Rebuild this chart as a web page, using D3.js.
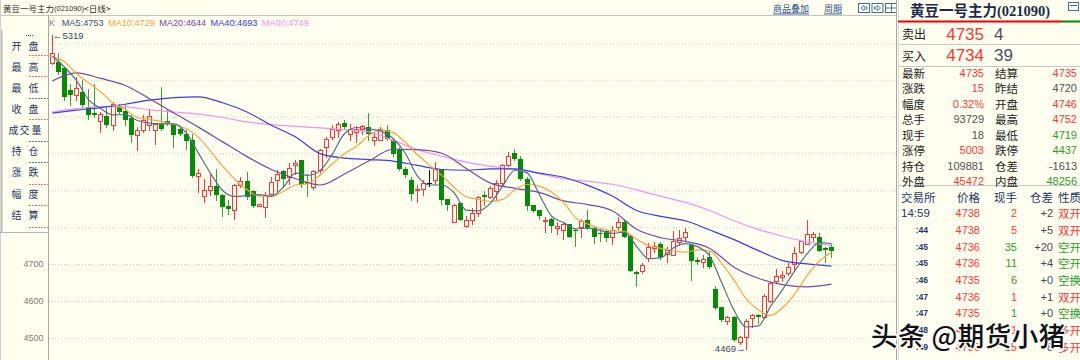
<!DOCTYPE html>
<html><head><meta charset="utf-8">
<script src="https://cdn.jsdelivr.net/npm/d3@7"></script>
<style>
html,body{margin:0;padding:0;background:#fffff0;overflow:hidden}
svg{display:block}
text{font-family:"Liberation Sans","Noto Sans CJK SC",sans-serif}
.cjk{font-family:"Noto Sans CJK SC",sans-serif}
</style></head><body>
<svg id="chart" width="1080" height="360"></svg>
<script>
// ---------------- DATA ----------------
const opens  = [5244,5247,5229,5170,5156,5165,5125,5108,5087,5099,5075,5126,5114,5096,5048,5061,5075,5061,5079,5086,5078,5066,5052,5036,4938,4882,4900,4909,4885,4855,4846,4914,4925,4896,4857,4853,4889,4927,4951,4934,4966,4981,4921,4907,4953,5016,5043,5062,5080,5052,5057,5066,5069,5036,5036,5063,5034,5012,4957,4927,4900,4903,4918,4926,4953,4874,4812,4864,4803,4819,4837,4887,4880,4898,4918,4966,5000,4984,4930,4858,4844,4815,4821,4796,4790,4806,4790,4799,4817,4796,4782,4788,4772,4799,4812,4776,4676,4679,4715,4742,4752,4726,4724,4758,4773,4751,4710,4704,4717,4631,4581,4545,4556,4486,4500,4552,4561,4554,4599,4654,4663,4674,4699,4731,4753,4773,4773,4742,4746];
const highs  = [5319,5270,5233,5188,5206,5197,5174,5188,5111,5125,5138,5134,5129,5102,5070,5102,5120,5081,5179,5116,5079,5068,5061,5052,4957,4930,4943,4957,4889,4871,4916,4934,4948,4900,4862,4894,4934,4954,4953,4972,4980,4981,4943,4954,5011,5043,5075,5084,5090,5078,5072,5075,5109,5052,5069,5075,5039,5016,4962,4935,4912,4927,4953,4975,4957,4876,4862,4867,4828,4851,4882,4898,4909,4926,4971,5003,5012,4991,4935,4860,4846,4826,4824,4812,4810,4808,4794,4821,4844,4801,4794,4790,4801,4826,4821,4781,4681,4701,4755,4758,4758,4744,4788,4790,4797,4753,4717,4722,4733,4640,4583,4559,4559,4504,4550,4563,4563,4617,4649,4685,4681,4701,4746,4762,4817,4785,4782,4744,4752];
const lows   = [5242,5215,5143,5129,5143,5125,5093,5097,5057,5070,5061,5107,5075,5030,5007,5057,5061,5025,5061,5075,5016,5048,5011,4934,4894,4866,4885,4871,4830,4835,4821,4907,4876,4853,4855,4827,4885,4898,4907,4916,4943,4907,4883,4903,4948,4989,5039,5043,5066,5034,5030,5052,5034,5021,5034,5034,4993,4953,4935,4873,4867,4885,4909,4917,4862,4844,4812,4817,4799,4808,4830,4858,4878,4873,4912,4964,4982,4926,4844,4839,4821,4785,4785,4781,4767,4772,4747,4772,4794,4755,4762,4762,4752,4794,4772,4679,4640,4674,4708,4731,4713,4704,4722,4749,4762,4656,4699,4690,4688,4577,4545,4536,4491,4481,4469,4529,4538,4552,4597,4649,4652,4670,4683,4728,4752,4761,4733,4704,4719];
const closes = [5271,5220,5152,5158,5177,5129,5102,5102,5105,5075,5132,5111,5088,5048,5063,5090,5099,5078,5066,5079,5048,5052,5032,4937,4945,4900,4909,4885,4853,4848,4914,4925,4880,4855,4862,4885,4921,4942,4930,4960,4972,4916,4916,4951,5007,5039,5066,5079,5069,5066,5066,5072,5051,5042,5066,5039,4996,4957,4939,4889,4903,4918,4918,4957,4871,4858,4858,4819,4819,4837,4880,4880,4906,4918,4966,4993,4984,4930,4855,4842,4828,4819,4801,4803,4806,4773,4787,4815,4797,4772,4779,4770,4792,4812,4773,4681,4672,4697,4744,4748,4717,4737,4762,4770,4785,4708,4704,4713,4692,4579,4547,4556,4492,4501,4545,4561,4554,4613,4646,4667,4670,4692,4728,4761,4781,4780,4735,4737,4735];

// moving averages, one value every 2 candles (MA5, MA10) or every 4 candles (MA20/40/60)
const ma5  = [5262,5233,5196,5144,5120,5103,5104,5088,5081,5079,5079,5055,5000,4945,4898,4882,4884,4887,4882,4908,4945,4939,4952,4996,5052,5069,5065,5059,5039,4999,4937,4913,4913,4892,4845,4843,4864,4910,4953,4946,4888,4829,4811,4794,4796,4790,4782,4785,4746,4713,4716,4742,4754,4746,4720,4647,4573,4528,4531,4584,4630,4681,4726,4757,4754];
const ma10 = [5261,5247,5215,5190,5165,5135,5118,5096,5091,5085,5077,5066,5043,5005,4964,4928,4900,4883,4883,4896,4913,4916,4940,4970,4998,5018,5047,5062,5055,5029,4995,4967,4939,4907,4881,4874,4869,4874,4900,4915,4910,4894,4866,4824,4807,4795,4789,4787,4766,4749,4741,4734,4731,4737,4734,4700,4655,4604,4574,4559,4581,4618,4667,4707,4729];
const ma20 = [5195,5217,5202,5183,5147,5108,5070,5030,4990,4955,4930,4913,4943,4978,5010,5009,4999,4958,4918,4904,4893,4870,4860,4843,4793,4770,4760,4741,4690,4660,4643,4637,4644];
const ma40 = [5108,5116,5123,5132,5143,5150,5152,5136,5111,5075,5043,4998,4986,4982,4978,4966,4955,4953,4957,4957,4945,4934,4912,4883,4844,4828,4816,4791,4765,4735,4708,4699,4693];
const ma60 = [5111,5120,5126,5125,5117,5111,5105,5096,5084,5077,5072,5068,5063,5057,5034,5009,4991,4975,4964,4955,4944,4930,4923,4915,4900,4882,4866,4844,4816,4792,4774,4758,4749];

const maNames = ["MA5","MA10","MA20","MA40","MA60"];
const maLast  = [4753,4729,4644,4693,4749];
const yTicks  = [4500,4600,4700,4800,4900,5000,5100,5200,5300];
const highLabel = 5319, lowLabel = 4469;

const panelRows = ["开盘","最高","最低","收盘","成交量","持仓","涨跌","幅度","结算"];

const quoteLabels = ["卖出","买入"];
const quotePrices = [4735,4734];
const quoteVols   = [4,39];

const infoLabelsL = ["最新","涨跌","幅度","总手","现手","涨停","持仓","外盘"];
const infoValuesL = ["4735","15","0.32%","93729","18","5003","109881","45472"];
const infoToneL   = ["up","up","up","flat","flat","up","flat","up"];
const infoLabelsR = ["结算","昨结","开盘","最高","最低","跌停","仓差","内盘"];
const infoValuesR = ["4735","4720","4746","4752","4719","4437","-1613","48256"];
const infoToneR   = ["up","flat","up","up","down","down","flat","down"];

const tickHeader = ["交易所","价格","现手","仓差","性质"];
const tickTimes  = ["14:59",":44",":45",":45",":46",":47",":47",":48",":49"];
const tickPrices = [4738,4738,4736,4736,4735,4736,4735,4736,4736];
const tickVols   = [2,5,35,11,6,1,1,1,15];
const tickOI     = ["+2","+5","+20","+4","+0","+1","+0","+1","+8"];
const tickNature = ["双开","双开","空开","空开","空换","双开","空换","多开","多开"];

// ---------------- DRAW ----------------
const BG = "#fffff0", RED = "#ff3434", GREEN = "#078a07", GREENW = "#3a9e3a";
const svg = d3.select("#chart");
svg.append("rect").attr("width",1080).attr("height",360).attr("fill",BG);

const N = closes.length;
const x = d3.scaleBand().domain(d3.range(N)).range([48.65, 48.65 + N*6.088]).paddingInner(0.25).paddingOuter(0.125);
const cen = i => x(i) + x.bandwidth()/2;
const y = d3.scaleLinear().domain([4500,5300]).range([337.3,42.3]);

// grid lines via axis
const gridAxis = d3.axisRight(y).tickValues(yTicks).tickSize(847).tickFormat("");
const gg = svg.append("g").attr("transform","translate(49,0.5)").call(gridAxis);
gg.select(".domain").remove();
gg.selectAll(".tick line").attr("stroke","#cccccc").attr("stroke-dasharray","1,2");

// y axis labels
const ya = svg.append("g").attr("transform","translate(48.5,0)")
  .call(d3.axisLeft(y).tickValues(yTicks).tickSize(0).tickPadding(5).tickFormat(d3.format("d")));
ya.select(".domain").remove();
ya.selectAll("text").attr("font-size",9).attr("fill","#7a7a7a").attr("font-family","Liberation Sans");

// candles
const cdata = d3.range(N).map(i => ({i, o:opens[i], h:highs[i], l:lows[i], c:closes[i]}));
const cg = svg.append("g");
const cand = cg.selectAll("g").data(cdata).join("g");
const colOf = d => d.c === d.o ? "#111" : (d.c > d.o ? RED : GREENW);
cand.append("line")
  .attr("x1", d => Math.round(cen(d.i)) + 0.5).attr("x2", d => Math.round(cen(d.i)) + 0.5)
  .attr("y1", d => Math.round(y(d.h))).attr("y2", d => Math.round(y(d.l)) + 1)
  .attr("stroke", colOf).attr("stroke-width",1);
cand.filter(d => d.c > d.o).append("rect")
  .attr("x", d => Math.round(cen(d.i)) - 1.5).attr("width",4)
  .attr("y", d => Math.round(y(d.c)) + 0.5)
  .attr("height", d => Math.max(0.5, Math.round(y(d.o)) - Math.round(y(d.c))))
  .attr("fill",BG).attr("stroke",RED).attr("stroke-width",1);
cand.filter(d => d.c < d.o).append("rect")
  .attr("x", d => Math.round(cen(d.i)) - 2).attr("width",5)
  .attr("y", d => Math.round(y(d.o)))
  .attr("height", d => Math.max(1, Math.round(y(d.c)) - Math.round(y(d.o))))
  .attr("fill",GREEN);
cand.filter(d => d.c === d.o).append("line")
  .attr("x1", d => Math.round(cen(d.i)) - 2).attr("x2", d => Math.round(cen(d.i)) + 3)
  .attr("y1", d => Math.round(y(d.c)) + 0.5).attr("y2", d => Math.round(y(d.c)) + 0.5)
  .attr("stroke","#111");

// moving average lines
const maDefs = [
  {vals:ma5, step:2, color:"#51708a"},
  {vals:ma10, step:2, color:"#f7a240"},
  {vals:ma20, step:4, color:"#7b47a3"},
  {vals:ma40, step:4, color:"#3b3be6"},
  {vals:ma60, step:4, color:"#f58ef2"}
];
const maLine = d3.line().x(d => cen(d.i) + 0.5).y(d => y(d.v)).curve(d3.curveMonotoneX);
const mg = svg.append("g");
[...maDefs].reverse().forEach(m => {
  const pts = m.vals.map((v,k) => ({i:k*m.step, v}));
  mg.append("path").attr("d", maLine(pts)).attr("fill","none").attr("stroke",m.color).attr("stroke-width",1.2);
});

// high / low markers
const hiIdx = highs.indexOf(highLabel), loIdx = lows.indexOf(lowLabel);
svg.append("text").attr("x", Math.round(cen(hiIdx)) + 1).attr("y", y(highLabel)).attr("dominant-baseline","central")
  .attr("font-size",9.5).attr("fill","#34486a").text("←" + highLabel);
svg.append("text").attr("x", Math.round(cen(loIdx)) - 0.5).attr("y", y(lowLabel)).attr("dominant-baseline","central")
  .attr("text-anchor","end").attr("font-size",9.5).attr("fill","#34486a").text(lowLabel + "→");

// header bar
svg.append("rect").attr("x",0).attr("y",0).attr("width",896).attr("height",15).attr("fill",BG);
svg.append("line").attr("x1",0).attr("x2",896).attr("y1",15.5).attr("y2",15.5).attr("stroke","#c4c4c4");
const ht = svg.append("text").attr("x",3).attr("y",8).attr("dominant-baseline","central").attr("fill","#2a2a2a");
ht.append("tspan").attr("class","cjk").attr("font-size",8.5).text("黄豆一号主力");
ht.append("tspan").attr("font-size",7.5).text("(021090)");
ht.append("tspan").attr("class","cjk").attr("font-size",8.5).text("<日线>");
const link = (t, x0) => svg.append("text").attr("class","cjk").attr("x",x0).attr("y",8).attr("dominant-baseline","central")
  .attr("font-size",9).attr("fill","#1f4f8f").attr("text-decoration","underline").text(t);
link("商品叠加",773); link("周期",824);
[858,871.5,885].forEach((bx,k) => {
  svg.append("rect").attr("x",bx+0.5).attr("y",3.5).attr("width",11).attr("height",9).attr("fill","none").attr("stroke","#3d6f9a");
  const p = k===0 ? `M${bx+3},8 L${bx+6},5.5 L${bx+6},7 L${bx+9},7 L${bx+9},9 L${bx+6},9 L${bx+6},10.5Z`
          : k===1 ? `M${bx+9},8 L${bx+6},5.5 L${bx+6},7 L${bx+3},7 L${bx+3},9 L${bx+6},9 L${bx+6},10.5Z`
          : `M${bx+6.5},4 L${bx+6.5},12 M${bx+1},8 L${bx+11},8`;
  svg.append("path").attr("d",p).attr("fill","none").attr("stroke","#3d6f9a").attr("stroke-width",0.9);
});

// chart axis and borders
svg.append("line").attr("x1",48.5).attr("x2",48.5).attr("y1",15).attr("y2",360).attr("stroke","#a9a9a9");
svg.append("line").attr("x1",0.5).attr("x2",0.5).attr("y1",0).attr("y2",360).attr("stroke","#d0d0d0");

// legend
let lx = 49;
const leg = svg.append("g");
leg.append("text").attr("x",lx).attr("y",22.5).attr("dominant-baseline","central").attr("font-size",9).attr("fill","#777").text("K");
lx = 61.7;
maNames.forEach((nm,k) => {
  const t = leg.append("text").attr("x",lx).attr("y",22.5).attr("dominant-baseline","central").attr("font-size",9.2)
    .attr("fill", k===0 ? "#3c4f78" : maDefs[k].color).text(nm + ":" + maLast[k]);
  lx += t.node().getComputedTextLength() + 4.3;
});

// left info panel
svg.append("rect").attr("x",0).attr("y",30).attr("width",48).attr("height",202).attr("fill",BG);
svg.append("line").attr("x1",1.5).attr("x2",1.5).attr("y1",30).attr("y2",232).attr("stroke","#b8b8b8").attr("stroke-width",2);
svg.append("line").attr("x1",0).attr("x2",48).attr("y1",232.5).attr("y2",232.5).attr("stroke","#b8b8b8");
svg.append("line").attr("x1",26).attr("x2",34).attr("y1",35.5).attr("y2",35.5).attr("stroke","#333").attr("stroke-dasharray","1,1");
const panelDashColors = ["#ff6a6a","#ff6a6a","#5a78b8","#ff6a6a","#5a78b8","#5a78b8","#ff6a6a","#ff6a6a","#ff6a6a"];
panelRows.forEach((lab,k) => {
  const yy = 45 + k*21.15;
  const chars = Array.from(lab);
  const xs = chars.length === 2 ? [16.5,33.5] : [13.5,24.5,36.5];
  chars.forEach((ch,j) => svg.append("text").attr("class","cjk").attr("x",xs[j]).attr("y",yy).attr("text-anchor","middle")
    .attr("dominant-baseline","central").attr("font-size",10).attr("fill","#1d3566").text(ch));
  const dy = Math.round(55 + k*21.45) + 0.5;
  svg.append("line").attr("x1",29).attr("x2",48).attr("y1",dy).attr("y2",dy).attr("stroke",panelDashColors[k]).attr("stroke-dasharray","2,1");
});

// right panel
const R0 = 897;
svg.append("rect").attr("x",R0).attr("y",0).attr("width",1080-R0).attr("height",360).attr("fill",BG);
svg.append("line").attr("x1",896.5).attr("x2",896.5).attr("y1",0).attr("y2",360).attr("stroke","#a6a6a6");
svg.append("line").attr("x1",898.5).attr("x2",898.5).attr("y1",0).attr("y2",360).attr("stroke","#dadada");
const tt = svg.append("text").attr("x",910).attr("y",16).attr("font-weight","bold").attr("fill","#1b2a4c");
tt.append("tspan").attr("class","cjk").attr("font-size",14.5).text("黄豆一号主力");
tt.append("tspan").attr("font-family","Liberation Serif").attr("font-size",14.5).text("(021090)");
svg.append("rect").attr("x",1068.5).attr("y",2.5).attr("width",10).attr("height",8).attr("fill","none").attr("stroke","#3d6f9a");
svg.append("line").attr("x1",1070).attr("x2",1077).attr("y1",5.5).attr("y2",5.5).attr("stroke","#3d6f9a");
svg.append("line").attr("x1",898).attr("x2",1062).attr("y1",21.5).attr("y2",21.5).attr("stroke","#ee0000").attr("stroke-width",2);
svg.append("line").attr("x1",1062).attr("x2",1080).attr("y1",21.5).attr("y2",21.5).attr("stroke","#008a00").attr("stroke-width",2);

quoteLabels.forEach((lab,k) => {
  const yy = 33.5 + k*21.5;
  svg.append("text").attr("class","cjk").attr("x",902).attr("y",yy).attr("dominant-baseline","central").attr("font-size",12).attr("fill","#222").text(lab);
  svg.append("text").attr("x",984).attr("y",yy+0.5).attr("text-anchor","end").attr("dominant-baseline","central")
    .attr("font-family","Liberation Serif").attr("font-size",17).attr("fill",RED).text(quotePrices[k]);
  svg.append("text").attr("x",994).attr("y",yy+0.5).attr("dominant-baseline","central")
    .attr("font-family","Liberation Serif").attr("font-size",17).attr("fill","#4a5060").text(quoteVols[k]);
});
[44.5,66.5,185.5].forEach(yy => svg.append("line").attr("x1",899).attr("x2",1080).attr("y1",yy).attr("y2",yy).attr("stroke","#c6c6c6"));

const toneColor = t => t==="up" ? RED : t==="down" ? "#2e9a2e" : "#505050";
infoLabelsL.forEach((lab,k) => {
  const yy = 72.7 + k*15.5;
  svg.append("text").attr("class","cjk").attr("x",902).attr("y",yy).attr("dominant-baseline","central").attr("font-size",11.5).attr("fill","#222").text(lab);
  svg.append("text").attr("x",984).attr("y",yy).attr("text-anchor","end").attr("dominant-baseline","central").attr("font-size",11).attr("fill",toneColor(infoToneL[k])).text(infoValuesL[k]);
  svg.append("text").attr("class","cjk").attr("x",995).attr("y",yy).attr("dominant-baseline","central").attr("font-size",11.5).attr("fill","#222").text(infoLabelsR[k]);
  svg.append("text").attr("x",1077).attr("y",yy).attr("text-anchor","end").attr("dominant-baseline","central").attr("font-size",11).attr("fill",toneColor(infoToneR[k])).text(infoValuesR[k]);
});

// tick table
const hx = [[901,"start"],[980,"end"],[1017,"end"],[1053,"end"],[1058,"start"]];
tickHeader.forEach((h,k) => svg.append("text").attr("class","cjk").attr("x",hx[k][0]).attr("y",197).attr("text-anchor",hx[k][1])
  .attr("dominant-baseline","central").attr("font-size",11.5).attr("fill","#1d3566").text(h));
const isRed = s => s.startsWith("双") || s.startsWith("多");
tickTimes.forEach((t,k) => {
  const yy = 213.3 + k*16.67;
  if (k === 0) svg.append("text").attr("x",901).attr("y",yy).attr("dominant-baseline","central").attr("font-size",11.5).attr("fill","#1d3566").text(t);
  else svg.append("text").attr("x",928).attr("y",yy).attr("text-anchor","end").attr("dominant-baseline","central").attr("font-size",8.5).attr("font-weight","bold").attr("fill","#1d3566").text(t);
  svg.append("text").attr("x",980).attr("y",yy).attr("text-anchor","end").attr("dominant-baseline","central").attr("font-size",11).attr("fill",RED).text(tickPrices[k]);
  const c = isRed(tickNature[k]) ? RED : "#2e9a2e";
  svg.append("text").attr("x",1017).attr("y",yy).attr("text-anchor","end").attr("dominant-baseline","central").attr("font-size",11).attr("fill",c).text(tickVols[k]);
  svg.append("text").attr("x",1053).attr("y",yy).attr("text-anchor","end").attr("dominant-baseline","central").attr("font-size",11).attr("fill","#404858").text(tickOI[k]);
  svg.append("text").attr("class","cjk").attr("x",1058).attr("y",yy).attr("dominant-baseline","central").attr("font-size",11.5).attr("fill",c).text(tickNature[k]);
});

// watermark
svg.append("text").attr("class","cjk").attr("x",871).attr("y",346).attr("font-size",26.5).attr("font-weight",500)
  .attr("letter-spacing",0.5)
  .attr("fill","#111").attr("stroke","#ffffff").attr("stroke-width",3).attr("paint-order","stroke")
  .attr("stroke-linejoin","round").text("头条 @期货小猪");
</script></body></html>
